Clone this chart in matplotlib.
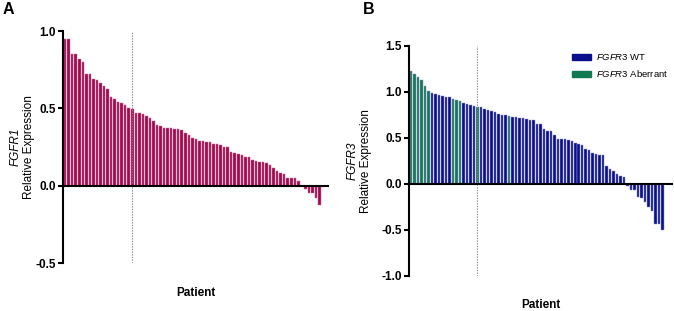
import numpy as np
import matplotlib
matplotlib.use('Agg')
import matplotlib.pyplot as plt
from matplotlib.patches import Patch

plt.rcParams['font.family'] = ['Liberation Sans', 'DejaVu Sans']
plt.rcParams['axes.unicode_minus'] = False
plt.rcParams['mathtext.fontset'] = 'custom'
plt.rcParams['mathtext.it'] = 'Liberation Sans:italic'
plt.rcParams['mathtext.rm'] = 'Liberation Sans'

# panel A: FGFR1 relative expression per patient (sorted)
fgfr1 = [0.95, 0.95, 0.85, 0.85, 0.82, 0.80, 0.72, 0.72, 0.69, 0.68,
         0.665, 0.645, 0.625, 0.575, 0.56, 0.54, 0.535, 0.52,
         0.505, 0.495, 0.473, 0.473, 0.462, 0.452, 0.437, 0.415, 0.394,
         0.387, 0.372, 0.372, 0.372, 0.366, 0.366, 0.36, 0.34, 0.33,
         0.308, 0.299, 0.288, 0.288, 0.282, 0.282, 0.269, 0.269, 0.265,
         0.25, 0.248, 0.217, 0.214, 0.206, 0.2, 0.183, 0.183, 0.168,
         0.157, 0.153, 0.15, 0.145, 0.133, 0.114, 0.092, 0.082, 0.074,
         0.05, 0.05, 0.048, 0.032, 0.0,
         -0.021, -0.047, -0.05, -0.077, -0.122]

# panel B: FGFR3 relative expression per patient (sorted)
fgfr3 = [1.225, 1.195, 1.16, 1.135, 1.06, 1.015,
         0.986, 0.978, 0.971, 0.957, 0.95, 0.95,
         0.924, 0.913, 0.90,
         0.877, 0.866, 0.859, 0.852, 0.84,
         0.834, 0.816, 0.805, 0.79, 0.78, 0.762, 0.755, 0.75, 0.744,
         0.733, 0.726, 0.718, 0.713, 0.708, 0.70, 0.70,
         0.653, 0.653, 0.60, 0.58, 0.574, 0.534,
         0.49, 0.487, 0.487, 0.48, 0.466, 0.448, 0.437, 0.426,
         0.383, 0.375, 0.336, 0.329, 0.31, 0.31,
         0.191, 0.166, 0.141, 0.105, 0.09, 0.08,
         -0.025, -0.06, -0.069, -0.14, -0.148, -0.2, -0.25, -0.29,
         -0.43, -0.43, -0.495]
# patients with FGFR3 aberration (index in sorted order)
aberrant_idx = [0, 1, 2, 3, 4, 5, 12, 13, 14, 19, 28]
cutoff_idx = 19

col_a = '#A00A4E'
col_wt = '#0A108C'
col_ab = '#127A52'

fig = plt.figure(figsize=(6.74, 3.11), dpi=100)
axA = fig.add_axes([63/674, 48/311, 265/674, 232/311])
axB = fig.add_axes([409/674, 35/311, 263/674, 230/311])


def style(ax, ylim, yticks):
    ax.set_ylim(*ylim)
    ax.set_yticks(yticks)
    ax.set_yticklabels([f'{t:.1f}' for t in yticks], fontweight='bold', fontsize=8.5)
    ax.spines['top'].set_visible(False)
    ax.spines['right'].set_visible(False)
    ax.spines['bottom'].set_position(('data', 0))
    ax.spines['left'].set_linewidth(1.5)
    ax.spines['bottom'].set_linewidth(1.5)
    ax.tick_params(axis='y', direction='out', length=3.5, width=1.5, pad=1.5)
    ax.set_xticks([])


# A
xa = np.arange(len(fgfr1))
axA.bar(xa, fgfr1, width=0.72, color=col_a, edgecolor='#CC6E99', linewidth=0.35)
axA.set_xlim(-0.6, len(fgfr1) + 1.4)
axA.axvline(cutoff_idx, color='#888888', linestyle=(0, (1.2, 1.2)), linewidth=0.8)
style(axA, (-0.5, 1.0), [-0.5, 0.0, 0.5, 1.0])
axA.text(-0.18, 0.5, 'FGFR1', style='italic', fontsize=8.5, rotation=90,
         transform=axA.transAxes, ha='center', va='center')
axA.text(-0.13, 0.5, 'Relative Expression', fontsize=8.5, rotation=90,
         transform=axA.transAxes, ha='center', va='center')
axA.text(0.5, -0.13, 'Patient', fontweight='bold', fontsize=8.5,
         transform=axA.transAxes, ha='center', va='center')

# B
xb = np.arange(len(fgfr3))
colors = [col_ab if i in aberrant_idx else col_wt for i in xb]
axB.bar(xb, fgfr3, width=0.72, color=colors, edgecolor='#9396CC', linewidth=0.35)
axB.set_xlim(-0.6, len(fgfr3) + 1.7)
axB.axvline(cutoff_idx, color='#888888', linestyle=(0, (1.2, 1.2)), linewidth=0.8)
style(axB, (-1.0, 1.5), [-1.0, -0.5, 0.0, 0.5, 1.0, 1.5])
axB.text(-0.215, 0.5, 'FGFR3', style='italic', fontsize=8.5, rotation=90,
         transform=axB.transAxes, ha='center', va='center')
axB.text(-0.165, 0.5, 'Relative Expression', fontsize=8.5, rotation=90,
         transform=axB.transAxes, ha='center', va='center')
axB.text(0.5, -0.126, 'Patient', fontweight='bold', fontsize=8.5,
         transform=axB.transAxes, ha='center', va='center')
handles = [Patch(color=col_wt, label=r'$\it{FGFR3}$ WT'),
           Patch(color=col_ab, label=r'$\it{FGFR3}$ Aberrant')]
axB.legend(handles=handles, loc='upper right', bbox_to_anchor=(1.0, 0.99),
           frameon=False, fontsize=6.8, handlelength=2.0, handleheight=0.55,
           labelspacing=0.65, handletextpad=0.5, borderaxespad=0)

fig.text(8/674, 1 - 10/311, 'A', fontweight='bold', fontsize=11.5, ha='center', va='center')
fig.text(369/674, 1 - 10/311, 'B', fontweight='bold', fontsize=11.5, ha='center', va='center')

fig.savefig('out.png', dpi=100)
